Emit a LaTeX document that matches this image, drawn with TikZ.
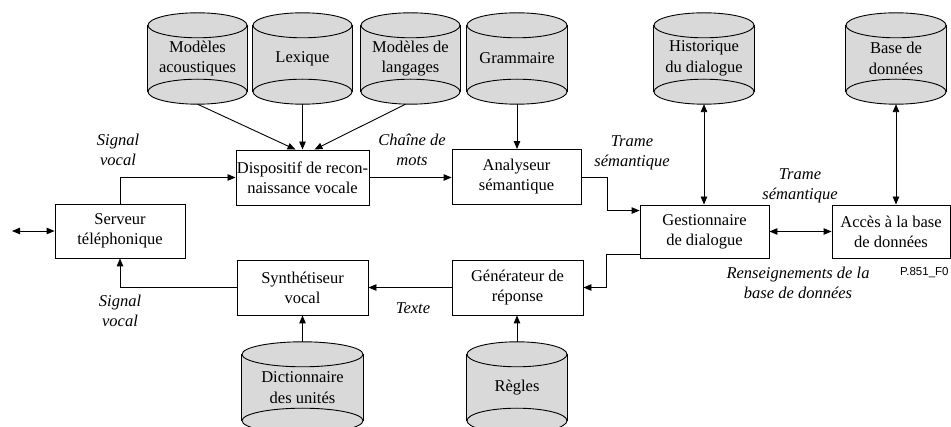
\documentclass[tikz,border=0pt]{standalone}
\usepackage{fontspec}
\setmainfont{Liberation Serif}
\newfontfamily\figsans{Liberation Sans}
\usetikzlibrary{arrows.meta,backgrounds}

\tikzset{
  blk/.style={draw, line width=0.9pt, align=center, minimum width=131pt, minimum height=55pt, inner sep=1pt, font=\fontsize{16.5}{20}\selectfont},
  db/.style={align=center, minimum width=#1, minimum height=91pt, inner sep=0pt, font=\fontsize{16.5}{20.5}\selectfont},
  lbl/.style={align=center, font=\fontsize{16.5}{20}\selectfont\itshape},
  arr/.style={line width=0.9pt, -{Triangle[length=8pt,width=6.5pt]}},
  darr/.style={line width=0.9pt, {Triangle[length=8pt,width=6.5pt]}-{Triangle[length=8pt,width=6.5pt]}},
  cylfill/.style={fill=gray!30},
}

\newcommand{\drumdraw}[2]{%
  \fill[cylfill] ([yshift=-12.5pt]#1.north west) rectangle ([yshift=12.5pt]#1.south east);
  \fill[cylfill] ([yshift=-12.5pt]#1.north) ellipse [x radius=#2pt, y radius=12.5pt];
  \fill[cylfill] ([yshift=12.5pt]#1.south) ellipse [x radius=#2pt, y radius=12.5pt];
  \draw[line width=0.9pt] ([yshift=-12.5pt]#1.north west) -- ([yshift=12.5pt]#1.south west);
  \draw[line width=0.9pt] ([yshift=-12.5pt]#1.north east) -- ([yshift=12.5pt]#1.south east);
  \draw[line width=0.9pt] ([yshift=-12.5pt]#1.north) ellipse [x radius=#2pt, y radius=12.5pt];
  \draw[line width=0.9pt] ([yshift=12.5pt]#1.south) ellipse [x radius=#2pt, y radius=12.5pt];
}

\begin{document}
\begin{tikzpicture}[x=1pt, y=-1pt]
    \useasboundingbox (0,0) rectangle (951,427);
    \clip (0,0) rectangle (951,427);
    \node[blk, minimum width=130pt, minimum height=54pt] (serveur) at (120,231) {Serveur\\téléphonique};
    \node[blk] (recon) at (302.5,177.5) {Dispositif de recon-\\naissance vocale};
    \node[blk, minimum width=129pt] (analyse) at (516.5,177) {Analyseur\\sémantique};
    \node[blk] (synth) at (302.5,287.5) {Synthétiseur\\vocal};
    \node[blk] (generat) at (517.5,287.5) {Générateur de\\réponse};
    \node[blk, minimum width=129pt, minimum height=53pt] (gestion) at (704.5,231.5) {Gestionnaire\\de dialogue};
    \node[blk, minimum width=118pt, minimum height=53pt] (acces) at (891,231.5) {Accès à la base\\de données};
    \node[db=99pt] (acou) at (197.5,58.5) {Modèles\\acoustiques};
    \node[db=99pt] (lexi) at (302.5,58.5) {Lexique};
    \node[db=99pt] (langa) at (410.5,58.5) {Modèles de\\langages};
    \node[db=100pt] (gramm) at (517,58.5) {Grammaire};
    \node[db=100pt] (histo) at (704,58.5) {Historique\\du dialogue};
    \node[db=100pt] (basedd) at (896,58.5) {Base de\\données};
    \node[db=121pt] (dico) at (302.5,387.5) {Dictionnaire\\des unités};
    \node[db=100pt] (regles) at (517,387.5) {Règles};
    \begin{scope}[on background layer]
    \foreach \c/\r in {acou/49.5, lexi/49.5, langa/49.5, gramm/50, histo/50, basedd/50, dico/60.5, regles/50}
      {\drumdraw{\c}{\r}}
    \end{scope}
    \coordinate (ligne) at (12,231);
    \draw[arr] (acou.south) -- ([xshift=-7pt]recon.north);
    \draw[arr] (lexi.south) -- (recon.north);
    \draw[arr] ([xshift=-5pt]langa.south) -- ([xshift=12pt]recon.north);
    \draw[arr] (gramm.south) -- (gramm.south |- analyse.north);
    \draw[darr] (histo.south) -- (histo.south |- gestion.north);
    \draw[darr] (basedd.south) -- (basedd.south |- acces.north);
    \draw[arr] (serveur.north) |- (recon.west);
    \draw[arr] (recon.east) -- (recon.east -| analyse.west);
    \draw[arr] (analyse.east) -- ++(26pt,0pt) |- ([yshift=-6pt]gestion.north west);
    \draw[arr] ([yshift=4pt]gestion.south west) -- ++(-33pt,0pt) |- (generat.east);
    \draw[arr] (generat.west) -- (synth.east);
    \draw[arr] (synth.west) -| (serveur.south);
    \draw[darr] (gestion.east) -- (acces.west);
    \draw[darr] (ligne) -- (serveur.west);
    \draw[arr] (dico.north) -- (synth.south);
    \draw[arr] (regles.north) -- (regles.north |- generat.south);
    \node[lbl] (sigin) at (118,150) {Signal\\vocal};
    \node[lbl] (chaine) at (412,150) {Chaîne de\\mots};
    \node[lbl] (trameun) at (632,153) {Trame\\sémantique};
    \node[lbl] (tramedeux) at (800,186) {Trame\\sémantique};
    \node[lbl] (sigout) at (120,311) {Signal\\vocal};
    \node[lbl] (texte) at (413,308) {Texte};
    \node[lbl] (rensei) at (798,283) {Renseignements de la\\base de données};
    \node[font=\figsans\fontsize{11.5}{13}\selectfont, anchor=base west, inner sep=0pt] (figref) at (900,276) {P.851\_F0};
\end{tikzpicture}
\end{document}
